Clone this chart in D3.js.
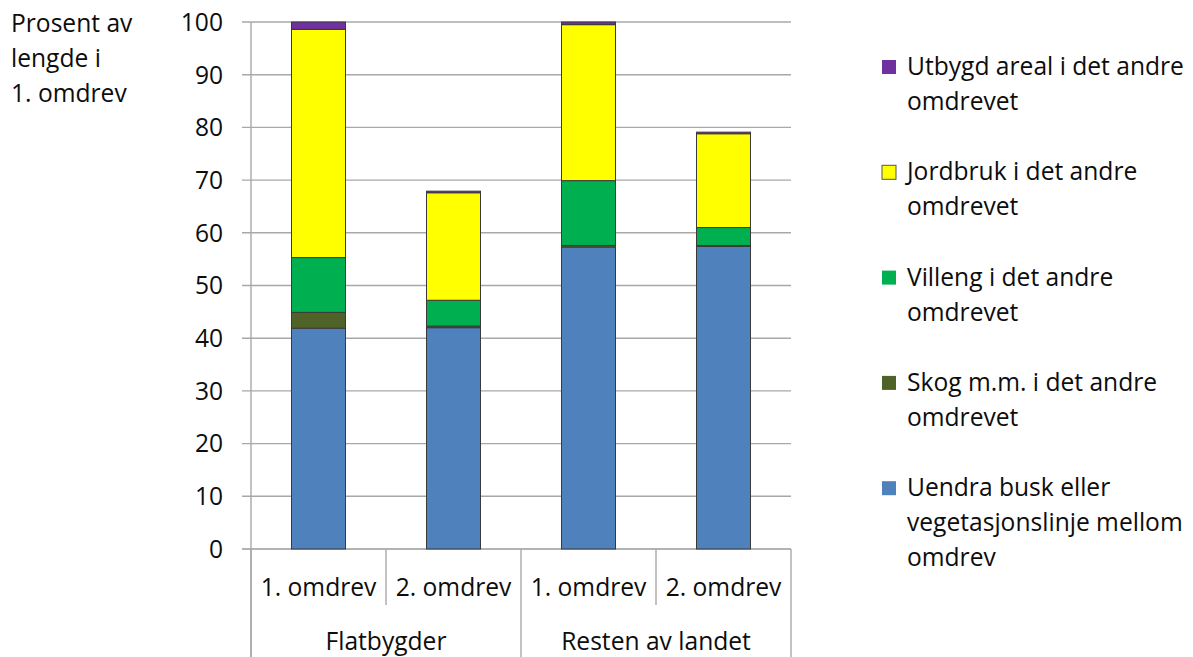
<!DOCTYPE html>
<html><head><meta charset="utf-8">
<script src="https://cdn.jsdelivr.net/npm/d3@7"></script>
<style>
html,body{margin:0;padding:0;background:#fff;}
svg{display:block;font-family:"Open Sans",sans-serif;}
</style></head>
<body><svg id="c" width="1193" height="657"></svg>
<script>
const groups = ["Flatbygder", "Resten av landet"];
const periods = ["1. omdrev", "2. omdrev"];
const barKeys = ["F1", "F2", "R1", "R2"];
const seriesNames = [
  "Uendra busk eller vegetasjonslinje mellom omdrev",
  "Skog m.m. i det andre omdrevet",
  "Villeng i det andre omdrevet",
  "Jordbruk i det andre omdrevet",
  "Utbygd areal i det andre omdrevet"
];
const uendra   = [41.9, 42.0, 57.3, 57.4];
const skog     = [3.0, 0.3, 0.3, 0.2];
const villeng  = [10.4, 4.9, 12.3, 3.4];
const jordbruk = [43.3, 20.4, 29.6, 17.8];
const utbygd   = [1.4, 0.3, 0.5, 0.3];
const yTicks = [0, 10, 20, 30, 40, 50, 60, 70, 80, 90, 100];
const yTitle = ["Prosent av", "lengde i", "1. omdrev"];
const legendLines = [
  ["Utbygd areal i det andre", "omdrevet"],
  ["Jordbruk i det andre", "omdrevet"],
  ["Villeng i det andre", "omdrevet"],
  ["Skog m.m. i det andre", "omdrevet"],
  ["Uendra busk eller", "vegetasjonslinje mellom", "omdrev"]
];
const colors = ["#4F81BD", "#4F6228", "#00B050", "#FFFF00", "#7030A0"];

const seriesKeys = ["uendra", "skog", "villeng", "jordbruk", "utbygd"];
const seriesVals = [uendra, skog, villeng, jordbruk, utbygd];
const table = barKeys.map((k, i) => {
  const o = {key: k};
  seriesKeys.forEach((s, j) => o[s] = seriesVals[j][i]);
  return o;
});

const svg = d3.select("#c");
const pLeft = 251, pRight = 791, pTop = 22, pBottom = 549;
const x = d3.scaleBand().domain(barKeys).range([pLeft, pRight]).paddingInner(0.6).paddingOuter(0.3);
const y = d3.scaleLinear().domain([0, 100]).range([pBottom, pTop]);
const textColor = "#0d0d0d";
const fs = 24.6;

// gridlines
svg.append("g").selectAll("line").data(yTicks).join("line")
  .attr("x1", pLeft - 9).attr("x2", pRight)
  .attr("y1", d => y(d)).attr("y2", d => y(d))
  .attr("stroke", d => d === 0 ? "#9a9a9a" : "#a8a8a8").attr("stroke-width", 1.4);

// y axis line
svg.append("line").attr("x1", pLeft).attr("x2", pLeft).attr("y1", pTop).attr("y2", 657)
  .attr("stroke", "#a8a8a8").attr("stroke-width", 1.4);

// y tick labels via axis
const yAxis = svg.append("g").attr("transform", `translate(${pLeft},0)`)
  .call(d3.axisLeft(y).tickValues(yTicks).tickSize(0).tickPadding(28));
yAxis.select(".domain").remove();
yAxis.selectAll("text").attr("font-size", fs).attr("font-family", "Open Sans")
  .attr("fill", textColor).attr("dy", "0.34em");

// y title
svg.append("g").selectAll("text").data(yTitle).join("text")
  .attr("x", 11).attr("y", (d, i) => 32 + i * 35)
  .attr("font-size", fs).attr("fill", textColor).text(d => d);

// stacked bars
const stack = d3.stack().keys(seriesKeys)(table);
svg.append("g").selectAll("g").data(stack).join("g")
  .attr("fill", (d, i) => colors[i])
  .selectAll("rect").data(d => d).join("rect")
  .attr("x", d => x(d.data.key))
  .attr("width", x.bandwidth())
  .attr("y", d => y(d[1]))
  .attr("height", d => y(d[0]) - y(d[1]))
  .attr("stroke", "#3a3a3a").attr("stroke-width", 1);

// category axis: separators
const step = x.step();
const innerSep = [1, 3].map(i => pLeft + i * step);
const outerSep = [0, 2, 4].map(i => pLeft + i * step);
svg.append("g").selectAll("line").data(innerSep).join("line")
  .attr("x1", d => d).attr("x2", d => d).attr("y1", pBottom).attr("y2", 605)
  .attr("stroke", "#a8a8a8").attr("stroke-width", 1.4);
svg.append("g").selectAll("line").data(outerSep).join("line")
  .attr("x1", d => d).attr("x2", d => d).attr("y1", pBottom).attr("y2", 657)
  .attr("stroke", "#a8a8a8").attr("stroke-width", 1.4);

// period labels
svg.append("g").selectAll("text").data(barKeys).join("text")
  .attr("x", d => x(d) + x.bandwidth() / 2).attr("y", 596)
  .attr("text-anchor", "middle").attr("font-size", fs).attr("fill", textColor)
  .text((d, i) => periods[i % 2]);

// group labels
svg.append("g").selectAll("text").data(groups).join("text")
  .attr("x", (d, i) => pLeft + (2 * i + 1) * step).attr("y", 650)
  .attr("text-anchor", "middle").attr("font-size", fs).attr("fill", textColor)
  .text(d => d);

// legend (reverse order: top series first)
const legOrder = [4, 3, 2, 1, 0];
const leg = svg.append("g").selectAll("g").data(legOrder).join("g")
  .attr("transform", (d, i) => `translate(882, ${75 + i * 105.3})`);
leg.append("rect").attr("x", 0).attr("y", -15).attr("width", 14).attr("height", 14)
  .attr("fill", d => colors[d]).attr("stroke", d => d === 3 ? "#555" : "none").attr("stroke-width", 1);
leg.each(function(d, i) {
  d3.select(this).selectAll("text").data(legendLines[i]).join("text")
    .attr("x", 25).attr("y", (t, j) => j * 35)
    .attr("font-size", fs).attr("fill", textColor).text(t => t);
});
</script></body></html>
